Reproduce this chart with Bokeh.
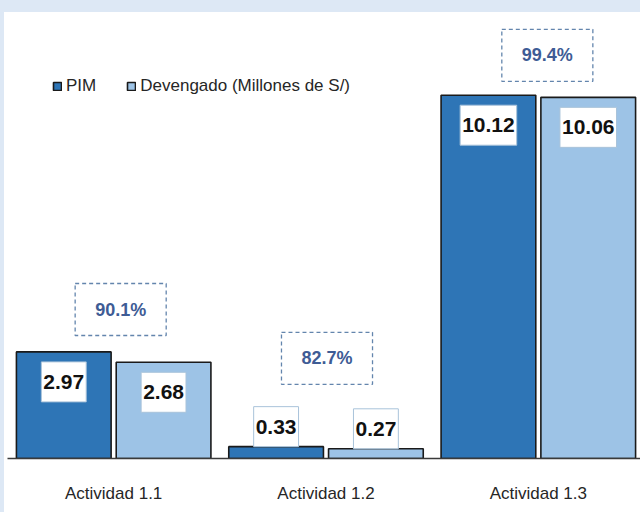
from bokeh.plotting import figure
from bokeh.models import ColumnDataSource, FactorRange, Range1d, Legend, LegendItem
from bokeh.transform import dodge
from bokeh.core.properties import value
from bokeh.embed import file_html
from bokeh.resources import INLINE

# ---------------- data ----------------
categories = ["Actividad 1.1", "Actividad 1.2", "Actividad 1.3"]
pim = [2.97, 0.33, 10.12]
devengado = [2.68, 0.27, 10.06]
ejecucion_pct = [90.1, 82.7, 99.4]

# ---------------- layout / style ----------------
PX_PER_UNIT = 35.9
FRAME_H = 446
pct_anchor_y = [4.15, 2.79, 11.23]   # vertical anchor of the % boxes (data units)
pct_dx_px = [7, 1, 9]                 # small horizontal nudge (pixels)

FONT = "Liberation Sans"
C_PIM = "#2e75b6"
C_DEV = "#9dc3e6"
C_BG = "#dde8f5"

def label_y(v):
    # inside the bar (30px below top) when tall, above it when short
    if v * PX_PER_UNIT > 60:
        return v - 30 / PX_PER_UNIT
    return v + 20 / PX_PER_UNIT

src = ColumnDataSource(dict(
    cat=categories,
    pim=pim,
    dev=devengado,
    pim_lbl=[f"{v:.2f}" for v in pim],
    dev_lbl=[f"{v:.2f}" for v in devengado],
    pim_y=[label_y(v) for v in pim],
    dev_y=[label_y(v) for v in devengado],
))

pct_src = ColumnDataSource(dict(
    cat=categories,
    y=pct_anchor_y,
    dx=pct_dx_px,
    txt=[f"{v:.1f}%" for v in ejecucion_pct],
))

p = figure(
    x_range=FactorRange(*categories),
    y_range=Range1d(0, FRAME_H / PX_PER_UNIT),
    width=640, height=512,
    output_backend="svg", toolbar_location=None,
    min_border_left=3, min_border_right=0, min_border_top=0, min_border_bottom=66,
    background_fill_color="white", border_fill_color="white",
)
p.styles = {
    "border-top": f"12px solid {C_BG}",
    "border-left": f"4px solid {C_BG}",
}
p.outline_line_color = None
p.xgrid.visible = False
p.ygrid.visible = False
p.yaxis.visible = False

BAR_W = 0.446
r_pim = p.vbar(x=dodge("cat", -0.235, range=p.x_range), top="pim", width=BAR_W,
               source=src, fill_color=C_PIM, line_color="#1a1a1a", line_width=1.6)
r_dev = p.vbar(x=dodge("cat", 0.235, range=p.x_range), top="dev", width=BAR_W,
               source=src, fill_color=C_DEV, line_color="#1a1a1a", line_width=1.6)

lbl_kw = dict(
    source=src, text_font=value(FONT), text_font_style="bold",
    text_font_size="21px", text_color="#111111",
    text_align="center", text_baseline="middle",
    background_fill_color="white", border_line_color="#a9c3da", border_line_width=1,
    padding=dict(left=2, right=2, top=13, bottom=13),
)
p.text(x=dodge("cat", -0.235, range=p.x_range), y="pim_y", text="pim_lbl", **lbl_kw)
p.text(x=dodge("cat", 0.235, range=p.x_range), y="dev_y", text="dev_lbl", **lbl_kw)

p.text(x="cat", y="y", x_offset="dx", text="txt", source=pct_src,
       text_font=value(FONT), text_font_style="bold", text_font_size="18px",
       text_color="#3e5c95", text_align="center", text_baseline="middle",
       background_fill_color="white", border_line_color="#6385ad",
       border_line_width=1.3, border_line_dash="4 3",
       padding=dict(left=20, right=20, top=16, bottom=16))

legend = Legend(
    items=[LegendItem(label="PIM", renderers=[r_pim]),
           LegendItem(label="Devengado (Millones de S/)", renderers=[r_dev])],
    orientation="horizontal", location=(45, 362),
    glyph_width=10, glyph_height=10, label_standoff=4, spacing=30,
    padding=0, margin=0,
    label_text_font=FONT, label_text_font_size="17px", label_text_color="#262626",
    background_fill_alpha=0, border_line_alpha=0,
)
p.add_layout(legend)

ax = p.xaxis[0]
ax.major_label_text_font = FONT
ax.major_label_text_font_size = "17px"
ax.major_label_text_color = "#262626"
ax.major_label_standoff = 19
ax.major_tick_line_color = None
ax.minor_tick_line_color = None
ax.axis_line_color = "#3a3a3a"
ax.axis_line_width = 1.5

open("out.html", "w").write(file_html(p, INLINE))
